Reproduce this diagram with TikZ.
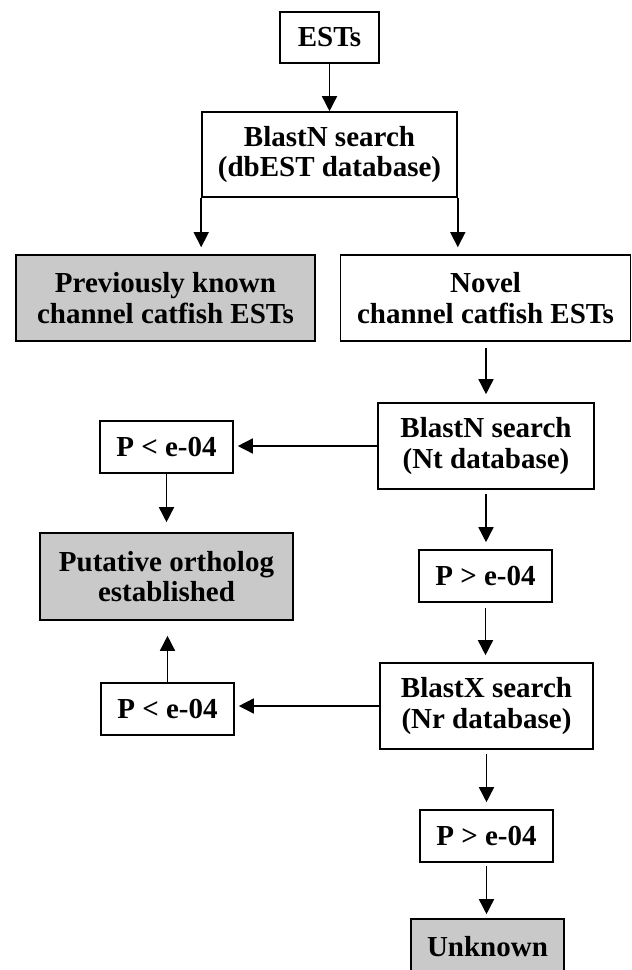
\documentclass[tikz,border=0pt]{standalone}
\usepackage{fontspec}
\setmainfont{Liberation Serif}
\usetikzlibrary{arrows.meta}
\definecolor{boxgray}{HTML}{C9C9C9}
\tikzset{
  box/.style={draw=black, line width=1.6pt, fill=white, rectangle, inner sep=0pt,
    align=center, font=\fontsize{29}{30.5}\selectfont\bfseries},
  graybox/.style={box, fill=boxgray},
  arr/.style={line width=1.5pt, -{Triangle[length=15pt,width=15pt]}}
}
\begin{document}
\begin{tikzpicture}[x=1pt,y=-1pt]
\useasboundingbox (0,0) rectangle (632,970);
\node[box, minimum width=99pt, minimum height=51pt] (ests) at (329.5,37.5) {ESTs};
\node[box, minimum width=255pt, minimum height=85pt] (b1) at (329.5,154.5) {BlastN search\\(dbEST database)};
\node[graybox, minimum width=299pt, minimum height=86pt] (prev) at (165.5,298) {Previously known\\channel catfish ESTs};
\node[box, minimum width=290pt, minimum height=86pt] (novel) at (485.5,298) {Novel\\channel catfish ESTs};
\node[box, minimum width=216pt, minimum height=86pt] (b2) at (486,446) {BlastN search\\(Nt database)};
\node[box, minimum width=133pt, minimum height=52pt] (plt1) at (166.5,447) {P < e-04};
\node[graybox, minimum width=253pt, minimum height=87pt] (put) at (166.5,576.5) {Putative ortholog\\established};
\node[box, minimum width=133pt, minimum height=52pt] (pgt1) at (485.5,576) {P > e-04};
\node[box, minimum width=213pt, minimum height=86pt] (bx) at (486.5,706) {BlastX search\\(Nr database)};
\node[box, minimum width=133pt, minimum height=52pt] (plt2) at (167.5,709) {P < e-04};
\node[box, minimum width=133pt, minimum height=52pt] (pgt2) at (486.5,836) {P > e-04};
\node[graybox, minimum width=153pt, minimum height=56pt] (unk) at (487.5,947) {Unknown};

\draw[arr] (ests.south) -- (ests.south |- b1.north);
\draw[arr, shorten >=7pt] (b1.south west) -- (b1.south west |- prev.north);
\draw[arr, shorten >=7pt] (b1.south east) -- (b1.south east |- novel.north);
\draw[arr, shorten <=6pt, shorten >=8pt] (novel.south -| b2.north) -- (b2.north);
\draw[arr, shorten >=4pt] (b2.west) -- (b2.west -| plt1.east);
\draw[arr, shorten >=10pt] (plt1.south) -- (plt1.south |- put.north);
\draw[arr, shorten <=4pt, shorten >=7pt] (b2.south) -- (b2.south |- pgt1.north);
\draw[arr, shorten <=5pt, shorten >=7pt] (pgt1.south) -- (pgt1.south |- bx.north);
\draw[arr, shorten >=4pt] (bx.west) -- (bx.west -| plt2.east);
\draw[arr, shorten >=15pt] (plt2.north) -- (plt2.north |- put.south);
\draw[arr, shorten <=4pt, shorten >=7pt] (bx.south) -- (bx.south |- pgt2.north);
\draw[arr, shorten <=3pt, shorten >=4pt] (pgt2.south) -- (pgt2.south |- unk.north);
\end{tikzpicture}
\end{document}
